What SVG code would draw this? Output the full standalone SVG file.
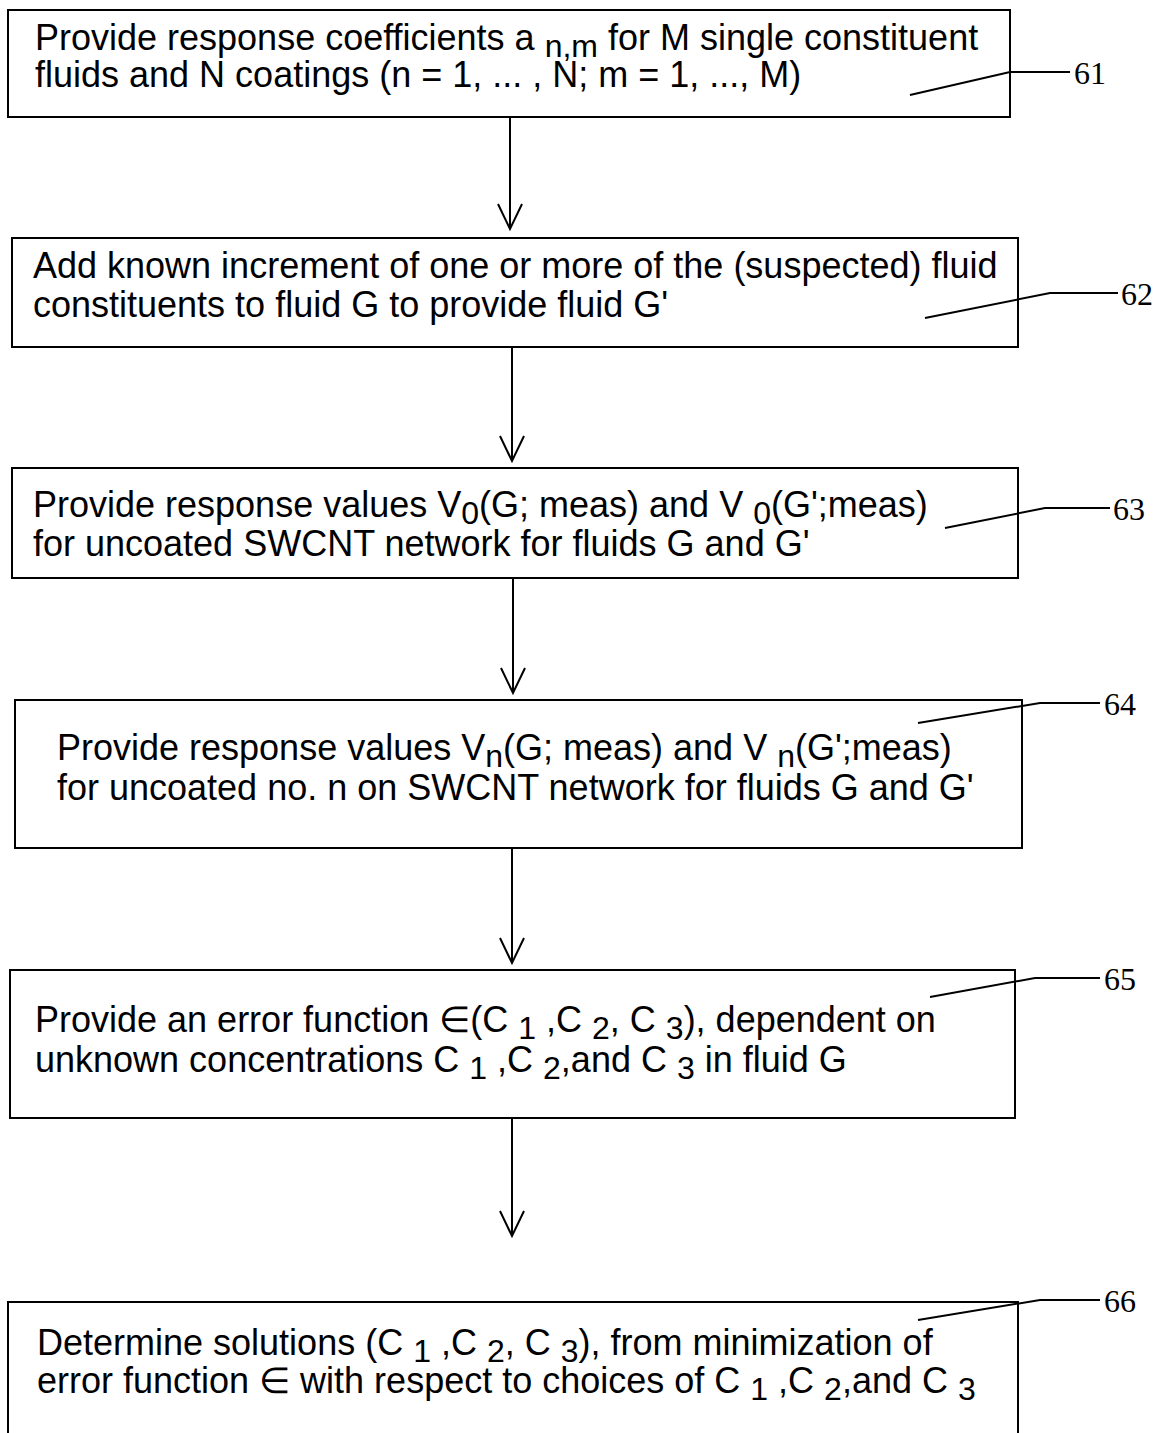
<svg xmlns="http://www.w3.org/2000/svg" width="1162" height="1433" viewBox="0 0 1162 1433">
<defs>
<style>
.box{fill:#fff;stroke:#000;stroke-width:2}
.t{font-family:"Liberation Sans",Arial,sans-serif;font-size:36px;fill:#000}
.s{font-size:32px}
.lbl{font-family:"Liberation Serif","Times New Roman",serif;font-size:32px;fill:#000}
.ln{fill:none;stroke:#000;stroke-width:2}
</style>
<marker id="chev" markerUnits="userSpaceOnUse" markerWidth="30" markerHeight="30" refX="26" refY="13" orient="auto">
<path d="M1,1 L26,13 L1,25" fill="none" stroke="#000" stroke-width="2"/>
</marker>
</defs>
<rect width="1162" height="1433" fill="#fff"/>
<g id="connectors">
<line class="ln" x1="510" y1="117" x2="510" y2="229" marker-end="url(#chev)"/>
<line class="ln" x1="512" y1="347" x2="512" y2="461" marker-end="url(#chev)"/>
<line class="ln" x1="513" y1="578" x2="513" y2="693" marker-end="url(#chev)"/>
<line class="ln" x1="512" y1="848" x2="512" y2="963" marker-end="url(#chev)"/>
<line class="ln" x1="512" y1="1118" x2="512" y2="1236" marker-end="url(#chev)"/>
</g>
<g id="n61">
<rect class="box" x="8" y="10" width="1002" height="107"/>
<text class="t" y="50"><tspan x="35">Provide response coefficients a </tspan><tspan class="s" dy="7">n,m</tspan><tspan dy="-7"> for M single constituent</tspan></text>
<text class="t" x="35" y="87">fluids and N coatings (n = 1, ... , N; m = 1, ..., M)</text>
<polyline class="ln" points="910,95 1010,72 1070,72"/>
<text class="lbl" x="1074" y="84">61</text>
</g>
<g id="n62">
<rect class="box" x="12" y="238" width="1006" height="109"/>
<text class="t" x="33" y="278">Add known increment of one or more of the (suspected) fluid</text>
<text class="t" x="33" y="317">constituents to fluid G to provide fluid G'</text>
<polyline class="ln" points="925,318 1050,293 1118,293"/>
<text class="lbl" x="1121" y="305">62</text>
</g>
<g id="n63">
<rect class="box" x="12" y="468" width="1006" height="110"/>
<text class="t" y="517"><tspan x="33">Provide response values V</tspan><tspan class="s" dy="7">0</tspan><tspan dy="-7">(G; meas) and V </tspan><tspan class="s" dy="7">0</tspan><tspan dy="-7">(G';meas)</tspan></text>
<text class="t" x="33" y="556">for uncoated SWCNT network for fluids G and G'</text>
<polyline class="ln" points="945,528 1045,508 1110,508"/>
<text class="lbl" x="1113" y="520">63</text>
</g>
<g id="n64">
<rect class="box" x="15" y="700" width="1007" height="148"/>
<text class="t" y="760"><tspan x="57">Provide response values V</tspan><tspan class="s" dy="7">n</tspan><tspan dy="-7">(G; meas) and V </tspan><tspan class="s" dy="7">n</tspan><tspan dy="-7">(G';meas)</tspan></text>
<text class="t" x="57" y="800">for uncoated no. n on SWCNT network for fluids G and G'</text>
<polyline class="ln" points="918,723 1040,703 1100,703"/>
<text class="lbl" x="1104" y="715">64</text>
</g>
<g id="n65">
<rect class="box" x="10" y="970" width="1005" height="148"/>
<text class="t" y="1032"><tspan x="35">Provide an error function ∈(C </tspan><tspan class="s" dy="7">1</tspan><tspan dy="-7"> ,C </tspan><tspan class="s" dy="7">2</tspan><tspan dy="-7">, C </tspan><tspan class="s" dy="7">3</tspan><tspan dy="-7">), dependent on</tspan></text>
<text class="t" y="1072"><tspan x="35">unknown concentrations C </tspan><tspan class="s" dy="7">1</tspan><tspan dy="-7"> ,C </tspan><tspan class="s" dy="7">2</tspan><tspan dy="-7">,and C </tspan><tspan class="s" dy="7">3</tspan><tspan dy="-7"> in fluid G</tspan></text>
<polyline class="ln" points="930,997 1035,978 1100,978"/>
<text class="lbl" x="1104" y="990">65</text>
</g>
<g id="n66">
<polyline class="ln" points="8,1433 8,1302 1018,1302 1018,1433"/>
<text class="t" y="1355"><tspan x="37">Determine solutions (C </tspan><tspan class="s" dy="7">1</tspan><tspan dy="-7"> ,C </tspan><tspan class="s" dy="7">2</tspan><tspan dy="-7">, C </tspan><tspan class="s" dy="7">3</tspan><tspan dy="-7">), from minimization of</tspan></text>
<text class="t" y="1393"><tspan x="37">error function ∈ with respect to choices of C </tspan><tspan class="s" dy="7">1</tspan><tspan dy="-7"> ,C </tspan><tspan class="s" dy="7">2</tspan><tspan dy="-7">,and C </tspan><tspan class="s" dy="7"> 3</tspan></text>
<polyline class="ln" points="918,1320 1040,1300 1100,1300"/>
<text class="lbl" x="1104" y="1312">66</text>
</g>
</svg>
